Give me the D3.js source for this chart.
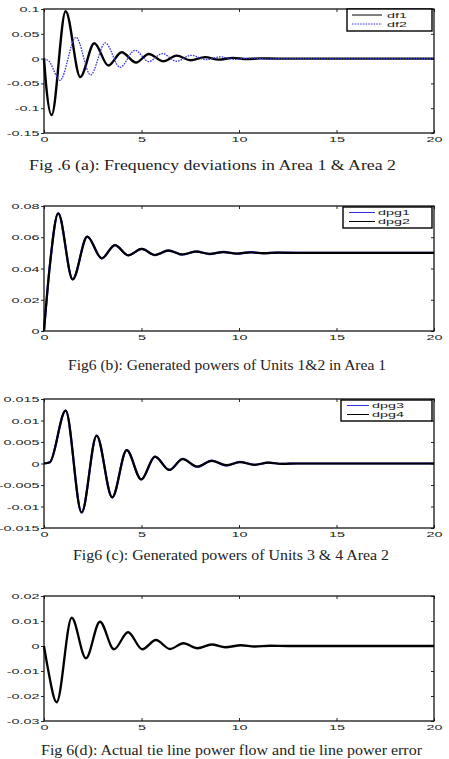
<!DOCTYPE html>
<html><head><meta charset="utf-8">
<script src="https://cdn.jsdelivr.net/npm/d3@7"></script>
<style>body{margin:0;background:#fff}</style>
</head><body><svg id="c" width="449" height="759"></svg>
<script>
// ---- data ----
const xTicks = [0, 5, 10, 15, 20];
const yTicksA = [0.1, 0.05, 0, -0.05, -0.1, -0.15];
const yTicksB = [0.08, 0.06, 0.04, 0.02, 0];
const yTicksC = [0.015, 0.01, 0.005, 0, -0.005, -0.01, -0.015];
const yTicksD = [0.02, 0.01, 0, -0.01, -0.02, -0.03];

const df1T = [0, 0.1, 0.39, 1.11, 1.86, 2.58, 3.30, 3.98, 4.72, 5.37, 6.12, 6.80, 7.52, 8.26, 8.95, 9.70, 10.4, 11.1, 12.0, 20];
const df1V = [0, -0.05, -0.1136, 0.0954, -0.037, 0.031, -0.014, 0.0128, -0.008, 0.0094, -0.0054, 0.006, -0.0034, 0.003, -0.002, 0.0015, -0.001, 0.0005, 0, 0];
const df2T = [0, 0.25, 0.82, 1.64, 2.39, 3.14, 3.90, 4.67, 5.37, 6.07, 6.80, 7.55, 8.30, 9.05, 9.80, 10.5, 11.3, 12.2, 20];
const df2V = [0, -0.005, -0.0437, 0.043, -0.033, 0.0316, -0.0175, 0.0168, -0.006, 0.010, -0.0054, 0.0067, -0.002, 0.0034, -0.0015, 0.001, -0.0005, 0, 0];

const dpg12T = [0, 0.3, 0.73, 1.47, 2.22, 2.96, 3.64, 4.32, 5.01, 5.69, 6.38, 7.10, 7.80, 8.50, 9.20, 9.90, 10.6, 11.3, 12.0, 13.0, 20];
const dpg1V = [0, 0.042, 0.0753, 0.0331, 0.0604, 0.0465, 0.055, 0.0484, 0.0525, 0.0486, 0.0516, 0.0488, 0.051, 0.0492, 0.0507, 0.0494, 0.0505, 0.0497, 0.0502, 0.05, 0.05];
const dpg2V = [0, 0.042, 0.0753, 0.0331, 0.0604, 0.0465, 0.055, 0.0484, 0.0525, 0.0486, 0.0515, 0.049, 0.0508, 0.0494, 0.0505, 0.0496, 0.0503, 0.0498, 0.0501, 0.05, 0.05];

const dpg34T = [0, 0.3, 1.11, 1.93, 2.70, 3.50, 4.24, 4.99, 5.69, 6.43, 7.11, 7.86, 8.60, 9.35, 10.05, 10.8, 11.5, 12.2, 13.0, 20];
const dpg3V = [0, 0.0003, 0.0123, -0.0114, 0.0065, -0.0079, 0.0031, -0.0037, 0.0016, -0.0015, 0.0011, -0.0008, 0.0007, -0.0005, 0.0004, -0.0003, 0.0002, -0.0001, 0, 0];
const dpg4V = [0, 0.0003, 0.0123, -0.0114, 0.0065, -0.0079, 0.0031, -0.0037, 0.0016, -0.0015, 0.001, -0.0007, 0.0006, -0.0004, 0.0003, -0.0003, 0.0002, -0.0001, 0, 0];

const tieT = [0, 0.2, 0.65, 1.42, 2.15, 2.87, 3.59, 4.31, 5.04, 5.74, 6.46, 7.15, 7.87, 8.60, 9.30, 10.1, 10.8, 11.6, 12.5, 20];
const tieV = [0, -0.009, -0.0225, 0.0113, -0.0049, 0.0097, -0.0013, 0.0055, -0.0013, 0.0024, -0.0012, 0.0011, -0.0009, 0.0006, -0.0005, 0.0003, -0.0002, 0.0001, 0, 0];

const captions = [
  "Fig .6 (a): Frequency deviations in Area 1 & Area 2",
  "Fig6 (b): Generated powers of Units 1&2 in Area 1",
  "Fig6 (c): Generated powers of Units 3 & 4 Area 2",
  "Fig 6(d): Actual tie line power flow and tie line power error"
];

// ---- drawing ----
const svg = d3.select("#c");
const L = 44, R = 434, SX = 2.0, FS = 7.2;
const zip = (t, v) => t.map((d, i) => [d, v[i]]);

const panels = [
  { top: 9, bottom: 133, dom: [-0.15, 0.1], ticks: yTicksA,
    series: [
      { data: zip(df1T, df1V), color: "#000", w: 2.4, dash: null, name: "df1" },
      { data: zip(df2T, df2V), color: "#3838e8", w: 1.3, dash: "1.6,1.1", name: "df2" }],
    legend: { x0: 347, x1: 432, y0: 9, y1: 31, lx0: 352, lx1: 382, tx: 387, rows: [15, 24] },
    cap: { x0: 29, x1: 396, y: 170 } },
  { top: 206, bottom: 331, dom: [0, 0.08], ticks: yTicksB,
    series: [
      { data: zip(dpg12T, dpg1V), color: "#3030e0", w: 2.2, dash: null, name: "dpg1" },
      { data: zip(dpg12T, dpg2V), color: "#000", w: 2.2, dash: null, name: "dpg2" }],
    legend: { x0: 343, x1: 432, y0: 207, y1: 228, lx0: 349, lx1: 375, tx: 378, rows: [212.5, 221.5] },
    cap: { x0: 68, x1: 386, y: 370 } },
  { top: 399, bottom: 528, dom: [-0.015, 0.015], ticks: yTicksC,
    series: [
      { data: zip(dpg34T, dpg3V), color: "#3030e0", w: 2.2, dash: null, name: "dpg3" },
      { data: zip(dpg34T, dpg4V), color: "#000", w: 2.2, dash: null, name: "dpg4" }],
    legend: { x0: 341, x1: 432, y0: 400, y1: 421, lx0: 347, lx1: 369, tx: 372, rows: [405.5, 414.5] },
    cap: { x0: 73, x1: 389, y: 560 } },
  { top: 596, bottom: 721, dom: [-0.03, 0.02], ticks: yTicksD,
    series: [
      { data: zip(tieT, tieV), color: "#000", w: 2.3, dash: null, name: "tie" }],
    legend: null,
    cap: { x0: 41, x1: 422, y: 755 } }
];

panels.forEach((p, i) => {
  const x = d3.scaleLinear([0, 20], [L, R]);
  const y = d3.scaleLinear(p.dom, [p.bottom, p.top]);
  const g = svg.append("g");

  const line = d3.line().x(d => x(d[0])).y(d => y(d[1])).curve(d3.curveMonotoneX);
  p.series.forEach(s => {
    g.append("path").attr("d", line(s.data)).attr("fill", "none")
      .attr("stroke", s.color).attr("stroke-width", s.w)
      .attr("stroke-dasharray", s.dash).attr("stroke-linejoin", "round");
  });

  // box
  g.append("rect").attr("x", L).attr("y", p.top).attr("width", R - L).attr("height", p.bottom - p.top)
    .attr("fill", "none").attr("stroke", "#000").attr("stroke-width", 1.2);

  const styleAxis = a => {
    a.attr("font-size", null).attr("font-family", null);
    a.select(".domain").remove();
    a.selectAll("line").attr("stroke", "#111").attr("stroke-width", 0.9);
  };

  // left axis (outward ticks, labels)
  const la = g.append("g").attr("transform", `translate(${L},0)`)
    .call(d3.axisLeft(y).tickValues(p.ticks).tickFormat(d => String(d)).tickSize(3).tickSizeOuter(0));
  styleAxis(la);
  la.selectAll("text").attr("x", -4.5 / SX).attr("dy", "0.36em")
    .attr("transform", `scale(${SX},1)`)
    .style("font-family", "'Liberation Sans', Arial, sans-serif").style("font-size", FS + "px").attr("fill", "#1a1a1a");

  // right axis (inward)
  const ra = g.append("g").attr("transform", `translate(${R},0)`)
    .call(d3.axisRight(y).tickValues(p.ticks).tickFormat("").tickSize(-3).tickSizeOuter(0));
  styleAxis(ra);

  // top axis (inward)
  const ta = g.append("g").attr("transform", `translate(0,${p.top})`)
    .call(d3.axisTop(x).tickValues(xTicks).tickFormat("").tickSize(-3).tickSizeOuter(0));
  styleAxis(ta);

  // bottom axis (inward ticks, labels)
  const ba = g.append("g").attr("transform", `translate(0,${p.bottom})`)
    .call(d3.axisBottom(x).tickValues(xTicks).tickFormat(d => String(d)).tickSize(-3).tickSizeOuter(0));
  styleAxis(ba);
  ba.selectAll("text").attr("y", 8.6).attr("dy", null).attr("x", 0)
    .attr("transform", `scale(${SX},1)`)
    .style("font-family", "'Liberation Sans', Arial, sans-serif").style("font-size", FS + "px").attr("fill", "#1a1a1a");

  // legend
  if (p.legend) {
    const lg = p.legend;
    g.append("rect").attr("x", lg.x0).attr("y", lg.y0).attr("width", lg.x1 - lg.x0).attr("height", lg.y1 - lg.y0)
      .attr("fill", "#fff").attr("stroke", "#000").attr("stroke-width", 1.4);
    p.series.forEach((s, k) => {
      const ry = lg.rows[k];
      g.append("line").attr("x1", lg.lx0).attr("x2", lg.lx1).attr("y1", ry).attr("y2", ry)
        .attr("stroke", s.color).attr("stroke-width", 1)
        .attr("stroke-dasharray", s.dash);
      g.append("text").attr("transform", `translate(${lg.tx},${ry}) scale(${SX},1)`)
        .attr("dy", "0.36em").text(s.name)
        .style("font-family", "'Liberation Sans', Arial, sans-serif").style("font-size", FS + "px").attr("fill", "#1a1a1a");
    });
  }

  // caption
  g.append("text").attr("x", p.cap.x0).attr("y", p.cap.y)
    .attr("textLength", p.cap.x1 - p.cap.x0).attr("lengthAdjust", "spacingAndGlyphs")
    .text(captions[i])
    .style("font-family", "'Liberation Serif', 'Times New Roman', serif").style("font-size", "15.5px").attr("fill", "#222");
});
</script>
</body></html>
